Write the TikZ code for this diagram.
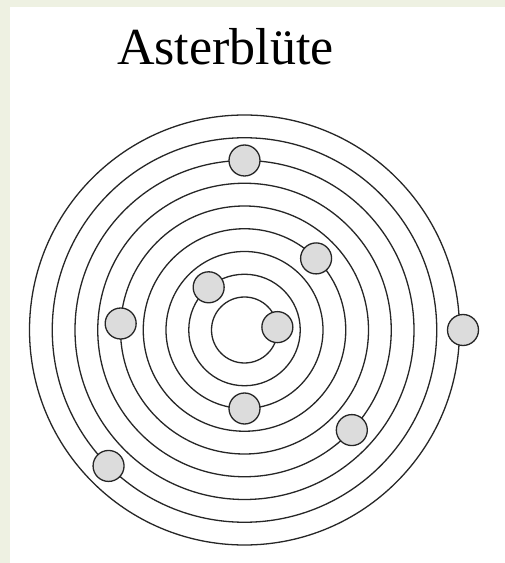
\documentclass[tikz,border=0pt]{standalone}
\usepackage{fontspec}
\setmainfont{Liberation Serif}
\definecolor{pagegreen}{RGB}{238,241,226}
\definecolor{ballgray}{RGB}{220,220,220}
\begin{document}
\begin{tikzpicture}
  [x=1pt, y=1pt,
   ring/.style={draw=black!85, line width=1.3pt},
   ball/.style={circle, fill=ballgray, draw=black!85, line width=1.3pt, inner sep=0pt, minimum size=31pt},
   title/.style={font=\fontsize{52}{60}\selectfont, anchor=base}]

  % Hintergrund
  \fill[pagegreen] (0,0) rectangle (505,563);
  \fill[white] (10,0) rectangle (505,556);
  \useasboundingbox (0,0) rectangle (505,563);

  % Ueberschrift
  \node[title] (t) at (225.5,498) {Asterblüte};

  % Mittelpunkt und Kreise
  \coordinate (c) at (244.5,233);
  \foreach \k in {1,...,9}
    \draw[ring] (c) circle ({33+22.75*(\k-1)});

  % Kugeln: je eine auf jedem Kreis (Kreis/Winkel/Abstand)
  \foreach \k/\a/\d in {1/5/0, 2/130/0, 3/270/0, 4/45/0, 5/177/0, 6/-43/0, 7/90/0, 8/225/0, 9/0/3.5}
    \node[ball] (b\k) at ([shift={(\a:{33+22.75*(\k-1)+\d})}]c) {};
\end{tikzpicture}
\end{document}
